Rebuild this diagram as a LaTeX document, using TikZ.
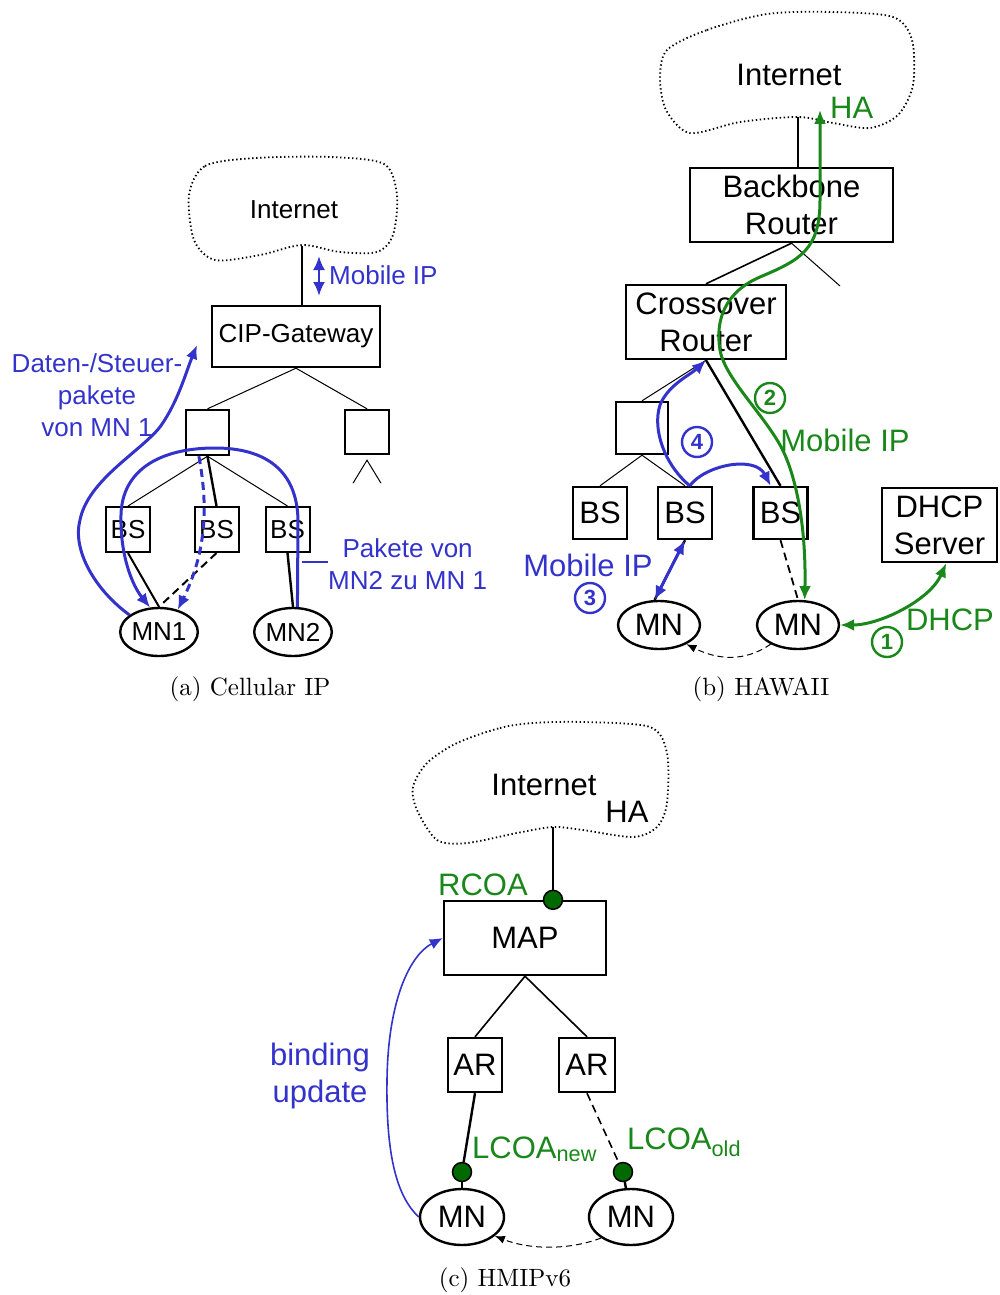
\documentclass[tikz,border=0pt]{standalone}
\usepackage{fontspec}
\usetikzlibrary{shapes.geometric,arrows.meta,calc}
\newfontfamily\arial{Liberation Sans}
\newfontfamily\capfont{lmroman10-regular}[Extension=.otf]
\definecolor{mipblue}{RGB}{51,51,204}
\definecolor{mipgreen}{RGB}{25,135,25}
\definecolor{coagreen}{RGB}{0,105,0}
\newcommand{\fsa}{\arial\fontsize{26}{32}\selectfont}
\newcommand{\fsb}{\arial\fontsize{31}{37}\selectfont}

\tikzset{
  >={Latex[length=14pt,width=12pt]},
  box/.style={draw, line width=2.4pt, inner sep=0pt, align=center},
  mn/.style={draw, ellipse, line width=2.4pt, inner sep=0pt},
  branch/.style={line width=1pt},
  link/.style={line width=2.4pt},
  broken/.style={dash pattern=on 8pt off 5pt},
  netcloud/.style={line width=1.8pt, dash pattern=on 1.4pt off 2.6pt},
  lbl/.style={inner sep=0pt, align=center},
  bluearrow/.style={mipblue, line width=3pt},
  greenarrow/.style={mipgreen, line width=3pt},
  moveto/.style={line width=1pt, dash pattern=on 6pt off 4pt, -{Latex[length=10pt,width=8pt]}},
  num/.style={circle, draw, line width=2.4pt, inner sep=0pt, minimum size=30pt, font=\arial\bfseries\fontsize{22}{22}\selectfont},
  coa/.style={circle, draw, fill=coagreen, line width=1.5pt, inner sep=0pt, minimum size=19pt},
  subcap/.style={font=\capfont\fontsize{25}{30}\selectfont}
}

\begin{document}
\begin{tikzpicture}[x=1pt, y=-1pt]
\useasboundingbox (0,0) rectangle (1000,1295);

% (a) Cellular IP
\draw[netcloud] plot[smooth cycle] coordinates {(189,195) (205,166) (255,158) (330,157) (384,164) (397,195) (393,235) (377,252) (340,252) (302,245) (260,255) (215,260) (194,240)};
\node[font=\fsa] (inetA) at (294,210) {Internet};
\coordinate (inetAb) at (302,246);
\node[box, minimum width=168pt, minimum height=61pt, font=\fsa] (cipgw) at (296,336.5) {CIP-Gateway};
\node[box, minimum width=43pt, minimum height=45pt] (hubA) at (207.5,432.5) {};
\node[box, minimum width=44pt, minimum height=44pt] (hubA2) at (367,432) {};
\foreach \n/\x in {1/128,2/216.5,3/287.5}
  \node[box, line width=2pt, minimum width=44pt, minimum height=45pt, font=\fsa] (bsA\n) at (\x,529.5) {BS};
\node[mn, minimum width=68pt, minimum height=48pt, font=\fsa] (mnA1) at (159,632) {MN1};
\node[mn, minimum width=70pt, minimum height=48pt, font=\fsa] (mnA2) at (293,632) {MN2};

\draw[link] (inetAb) -- (inetAb |- cipgw.north);
\draw[branch] (cipgw.south) -- (hubA.north);
\draw[branch] (cipgw.south) -- (hubA2.north);
\draw[branch] ($(hubA2.south)+(-14,28)$) -- ($(hubA2.south)+(0,5)$) -- ($(hubA2.south)+(14,28)$);
\draw[branch] (hubA.south) -- (bsA1.north);
\draw[link] (hubA.south) -- (bsA2.north);
\draw[branch] (hubA.south) -- (bsA3.north);
\draw[link, line width=2pt] (bsA1.south) -- (mnA1.north);
\draw[link, line width=2pt, broken] (bsA2.south) -- (mnA1.north);
\draw[link] (bsA3.south) -- (mnA2.north);

\coordinate (mipA1) at (319,256);
\coordinate (mipA2) at (319,296);
\draw[bluearrow, line width=2.5pt, <->] (mipA1) -- (mipA2);
\node[lbl, font=\fsa, mipblue, anchor=west] (mipAl) at (329,275) {Mobile IP};

\coordinate (dataA) at (197,345);
\draw[bluearrow, ->] (mnA1.150) .. controls (95,590) and (72,550) .. (80,520) .. controls (88,480) and (140,452) .. (160,427) .. controls (178,402) and (186,372) .. (dataA);
\node[lbl, font=\fsa, mipblue] (dataAl) at (97,395) {Daten-/Steuer-\\pakete\\von MN 1};
\draw[bluearrow, ->] (mnA2.80) -- (298,520) .. controls (297,470) and (265,448) .. (215,448) .. controls (160,448) and (122,470) .. (121,515) .. controls (120,555) and (132,585) .. (mnA1.110);
\draw[bluearrow, broken, ->] (hubA.250) .. controls (206,495) and (210,545) .. (mnA1.50);
\coordinate (pkA) at (302,562);
\node[lbl, font=\fsa, mipblue, anchor=west] (pktA) at (328,564) {Pakete von\\MN2 zu MN 1};
\draw[mipblue, line width=1.2pt] (pkA) -- (pktA.west |- pkA);
\node[subcap] (capA) at (250,689) {(a) Cellular IP};

% (b) HAWAII
\draw[netcloud] plot[smooth cycle] coordinates {(667,50) (707,30) (767,14) (833,12) (893,17) (912,40) (913,85) (898,115) (870,128) (833,123) (798,117) (740,122) (690,133) (666,110) (660,78)};
\node[font=\fsb] (inetB) at (789,75) {Internet};
\coordinate (inetBb) at (798,117);
\node[box, minimum width=203pt, minimum height=74pt, font=\fsb] (bbr) at (791.5,205) {Backbone\\Router};
\node[box, minimum width=160pt, minimum height=74pt, font=\fsb] (xor) at (706,322) {Crossover\\Router};
\node[box, minimum width=52pt, minimum height=52pt] (hubB) at (642,428) {};
\foreach \n/\x in {1/600,2/685,3/780.5}
  \node[box, minimum width=54pt, minimum height=52pt, font=\fsb] (bsB\n) at (\x,513) {BS};
\node[box, minimum width=115pt, minimum height=74pt, font=\fsb] (dhcp) at (939.5,525) {DHCP\\Server};
\node[mn, minimum width=82pt, minimum height=48pt, font=\fsb] (mnB1) at (659,625) {MN};
\node[mn, minimum width=82pt, minimum height=48pt, font=\fsb] (mnB2) at (798,625) {MN};
\coordinate (bbrR) at (840,286);

\draw[link] (inetBb) -- (inetBb |- bbr.north);
\draw[branch, line width=1.6pt] (bbr.south) -- (xor.north);
\draw[branch] (bbr.south) -- (bbrR);
\draw[branch] (xor.south) -- (hubB.north);
\draw[link] (xor.south) -- (bsB3.north);
\draw[branch] (hubB.south) -- (bsB1.north);
\draw[branch] (hubB.south) -- (bsB2.north);
\draw[link] (bsB2.south) -- (mnB1.100);
\draw[link, line width=1.8pt, broken] (bsB3.south) -- (mnB2.north);
\draw[moveto] (mnB2.215) .. controls (745,662) and (718,660) .. (mnB1.-35);

\draw[bluearrow, <->] (mnB1.100) -- (bsB2.south);
\draw[bluearrow, ->] (bsB2.80) .. controls (665,465) and (652,430) .. (660,405) .. controls (668,385) and (690,375) .. (xor.south);
\draw[bluearrow, ->] (bsB2.80) .. controls (705,465) and (755,455) .. (bsB3.110);
\node[lbl, font=\fsb, mipblue] (mipB) at (588,565) {Mobile IP};
\node[num, mipblue] (n3) at (590,598) {3};
\node[num, mipblue] (n4) at (697,442) {4};

\coordinate (haB) at (820,110);
\draw[greenarrow, <->] (haB) -- (820,200) .. controls (820,250) and (800,260) .. (760,277) .. controls (725,292) and (715,320) .. (720,350) .. controls (725,380) and (770,420) .. (785,455) .. controls (800,490) and (806,540) .. (mnB2.75);
\node[lbl, font=\fsb, mipgreen, anchor=west] (haBl) at (830,108) {HA};
\node[num, mipgreen] (n2) at (770,398) {2};
\node[lbl, font=\fsb, mipgreen] (mipBg) at (845,440) {Mobile IP};
\draw[greenarrow, <->] (mnB2.east) .. controls (880,625) and (930,600) .. (dhcp.-80);
\node[lbl, font=\fsb, mipgreen] (dhcpl) at (950,620) {DHCP};
\node[num, mipgreen] (n1) at (887,642) {1};
\node[subcap] (capB) at (761,689) {(b) HAWAII};

% (c) HMIPv6
\draw[netcloud] plot[smooth cycle] coordinates {(457,743) (500,728) (533,723) (583,722) (650,727) (667,753) (667,803) (657,827) (633,837) (583,830) (553,827) (517,833) (467,843) (437,840) (417,810) (413,787) (427,763)};
\node[font=\fsb] (inetC) at (544,785) {Internet};
\node[lbl, font=\fsb] (haC) at (627,812) {HA};
\coordinate (inetCb) at (553,827);
\node[box, minimum width=162pt, minimum height=74pt, font=\fsb] (map) at (525,938) {MAP};
\node[box, minimum width=54pt, minimum height=54pt, font=\fsb] (arC1) at (475,1065) {AR};
\node[box, minimum width=56pt, minimum height=54pt, font=\fsb] (arC2) at (587,1065) {AR};
\node[mn, minimum width=84pt, minimum height=56pt, font=\fsb] (mnC1) at (462,1217) {MN};
\node[mn, minimum width=84pt, minimum height=56pt, font=\fsb] (mnC2) at (631,1217) {MN};
\node[coa] (rcoa) at (inetCb |- map.north) {};
\node[coa] (coaN) at (462,1172) {};
\node[coa] (coaO) at (623,1172) {};

\draw[link] (inetCb) -- (rcoa);
\draw[branch, line width=1.6pt] (map.south) -- (arC1.north);
\draw[branch, line width=1.6pt] (map.south) -- (arC2.north);
\draw[link] (arC1.south) -- (coaN);
\draw[link] (coaN) -- (mnC1.north);
\draw[link, line width=1.6pt, broken] (arC2.south) -- (coaO);
\draw[link] (coaO) -- (mnC2.100);
\draw[moveto] (mnC2.215) .. controls (570,1250) and (530,1250) .. (mnC1.-30);

\node[lbl, font=\fsb, mipgreen] (rcoal) at (483,885) {RCOA};
\node[lbl, font=\fsb, mipgreen, anchor=base west] (lcoaNl) at (472,1158) {LCOA\textsubscript{new}};
\node[lbl, font=\fsb, mipgreen, anchor=base west] (lcoaOl) at (627,1149) {LCOA\textsubscript{old}};
\draw[mipblue, line width=1.6pt, -{Latex[length=13pt,width=11pt]}] (mnC1.west) .. controls (395,1195) and (386,1150) .. (387,1080) .. controls (388,1000) and (410,955) .. (map.west);
\node[lbl, font=\fsb, mipblue] (bindC) at (320,1076) {binding\\update};
\node[subcap] (capC) at (505,1280) {(c) HMIPv6};
\end{tikzpicture}
\end{document}
